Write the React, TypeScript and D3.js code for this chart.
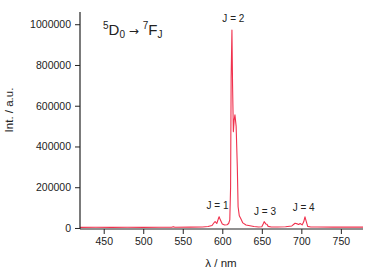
import { useRef, useEffect } from 'react';
import * as d3 from 'd3';

// ---------------------------------------------------------------------------
// Data
// ---------------------------------------------------------------------------

const WAVELENGTH = [
  420, 440, 460, 480, 500, 520, 536, 538, 540, 560, 575, 582, 587, 590, 591, 593,
  595, 596, 597.5, 600, 603, 606, 608, 609.5, 610.5, 611.2, 612.2, 613, 614, 615,
  616, 617.5, 619, 620, 621.5, 623.5, 626, 630, 635, 640, 646, 650, 652, 653, 655,
  656.5, 658, 662, 670, 680, 688, 692, 695, 696.5, 698.5, 701, 703, 704.6, 706, 708,
  712, 720, 740, 760, 778,
];

const INTENSITY = [
  3000, 3500, 3000, 3500, 3000, 3500, 3500, 6500, 3500, 4000, 5000, 7000, 12000, 28000, 31000, 22000,
  45000, 55000, 40000, 20000, 15000, 16000, 22000, 40000, 200000, 740000, 972000, 700000, 473000, 530000,
  555000, 500000, 300000, 104000, 60000, 45000, 25000, 15000, 11000, 7000, 5000, 6000, 22000, 31000, 20000,
  18000, 8000, 5000, 5000, 6000, 10000, 23000, 20000, 17000, 22000, 15000, 30000, 55000, 35000, 8000,
  5000, 4500, 4000, 4000, 4000,
];

const Y_TICKS = [0, 200000, 400000, 600000, 800000, 1000000];
const X_TICKS = [450, 500, 550, 600, 650, 700, 750];

const PEAK_LABELS = [
  { text: 'J = 1', nm: 594, value: 95000 },
  { text: 'J = 2', nm: 614, value: 1010000 },
  { text: 'J = 3', nm: 654, value: 65000 },
  { text: 'J = 4', nm: 703, value: 84000 },
];

// ---------------------------------------------------------------------------
// Styles
// ---------------------------------------------------------------------------

const LINE_COLOR = '#f0324e';
const AXIS_COLOR = '#222';
const FONT = 'Arial, "Liberation Sans", Helvetica, sans-serif';

const W = 367;
const H = 271;

export default function App() {
  const svgRef = useRef<SVGSVGElement>(null);

  useEffect(() => {
    if (!svgRef.current) return;
    const svg = d3.select(svgRef.current);
    svg.selectAll('*').remove();

    const x = d3.scaleLinear().domain([420, 778]).range([80, 363]);
    const y = d3.scaleLinear().domain([-5000, 1060000]).range([229, 12]);

    const pts = WAVELENGTH.map((w, i) => [w, INTENSITY[i]] as [number, number]);

    // Spectrum
    const line = d3.line<[number, number]>()
      .x((d) => x(d[0]))
      .y((d) => y(d[1]));

    svg.append('path')
      .datum(pts)
      .attr('d', line)
      .attr('fill', 'none')
      .attr('stroke', LINE_COLOR)
      .attr('stroke-width', 1.1)
      .attr('stroke-linejoin', 'round');

    // Y axis
    const yAxis = svg.append('g').attr('transform', 'translate(80,0)');
    yAxis.call(
      d3.axisLeft(y).tickValues(d3.range(0, 1060000, 100000)).tickSize(3).tickFormat(() => '')
    );
    yAxis.call(
      d3.axisLeft(y).tickValues(Y_TICKS).tickSize(5).tickPadding(4).tickFormat((d) => String(d))
    );
    yAxis.selectAll('.domain').remove();
    yAxis.append('line')
      .attr('x1', 0).attr('x2', 0)
      .attr('y1', y.range()[1]).attr('y2', y.range()[0])
      .attr('stroke', AXIS_COLOR).attr('stroke-width', 1.2);

    // X axis
    const xAxis = svg.append('g').attr('transform', 'translate(0,229)');
    xAxis.call(
      d3.axisBottom(x).tickValues(d3.range(425, 779, 50)).tickSize(3).tickFormat(() => '')
    );
    xAxis.call(
      d3.axisBottom(x).tickValues(X_TICKS).tickSize(5).tickPadding(4).tickFormat((d) => String(d))
    );
    xAxis.selectAll('.domain').remove();
    xAxis.append('line')
      .attr('x1', x.range()[0]).attr('x2', x.range()[1])
      .attr('y1', 0).attr('y2', 0)
      .attr('stroke', AXIS_COLOR).attr('stroke-width', 1.2);

    svg.selectAll('.tick line').attr('stroke', AXIS_COLOR);
    svg.selectAll('.tick text')
      .attr('fill', AXIS_COLOR)
      .attr('font-size', '10.5px')
      .attr('font-family', FONT);

    // Peak labels
    svg.selectAll('.peak-label')
      .data(PEAK_LABELS)
      .join('text')
      .attr('x', (d) => x(d.nm))
      .attr('y', (d) => y(d.value))
      .attr('text-anchor', 'middle')
      .attr('fill', AXIS_COLOR)
      .attr('font-size', '10px')
      .attr('font-family', FONT)
      .text((d) => d.text);

    // Transition title
    const title = svg.append('text')
      .attr('x', 103)
      .attr('y', 35)
      .attr('fill', AXIS_COLOR)
      .attr('font-family', FONT)
      .attr('font-size', '15px');
    title.append('tspan').attr('font-size', '10px').attr('dy', -6).text('5');
    title.append('tspan').attr('dy', 6).text('D');
    title.append('tspan').attr('font-size', '10px').attr('dy', 3).text('0');
    title.append('tspan').attr('dy', -3).attr('font-family', '"DejaVu Sans", sans-serif').attr('font-size', '12px').text(' \u2192 ');
    title.append('tspan').attr('font-size', '10px').attr('dy', -6).text('7');
    title.append('tspan').attr('dy', 6).text('F');
    title.append('tspan').attr('font-size', '10px').attr('dy', 3).text('J');

    // Axis titles
    svg.append('text')
      .attr('x', 221)
      .attr('y', 267)
      .attr('text-anchor', 'middle')
      .attr('fill', AXIS_COLOR)
      .attr('font-size', '11.5px')
      .attr('font-family', FONT)
      .text('\u03bb / nm');

    svg.append('text')
      .attr('transform', 'translate(13,110) rotate(-90)')
      .attr('text-anchor', 'middle')
      .attr('fill', AXIS_COLOR)
      .attr('font-size', '11.5px')
      .attr('font-family', FONT)
      .text('Int. / a.u.');
  }, []);

  return (
    <svg
      ref={svgRef}
      width={W}
      height={H}
      style={{ position: 'absolute', left: 0, top: 0, background: '#fff' }}
    />
  );
}
